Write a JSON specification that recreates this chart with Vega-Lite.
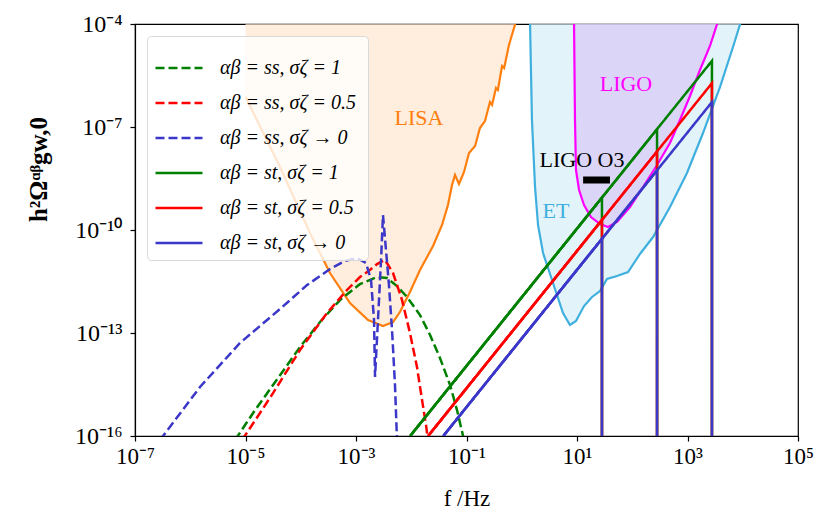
{
  "$schema": "https://vega.github.io/schema/vega-lite/v6.json",
  "width": 663,
  "height": 412,
  "autosize": "none",
  "padding": {"left": 135, "top": 24, "right": 33, "bottom": 90},
  "datasets": {
    "sens": [
      {"det": "LISA", "f": 1e-5, "h": 7.48e-7},
      {"det": "LISA", "f": 4.21e-5, "h": 6.84e-9},
      {"det": "LISA", "f": 1.47e-4, "h": 8.17e-11},
      {"det": "LISA", "f": 3.38e-4, "h": 5.58e-12},
      {"det": "LISA", "f": 7.78e-4, "h": 7.46e-13},
      {"det": "LISA", "f": 1.65e-3, "h": 2.39e-13},
      {"det": "LISA", "f": 3.08e-3, "h": 1.6e-13},
      {"det": "LISA", "f": 4.68e-3, "h": 2.09e-13},
      {"det": "LISA", "f": 6.25e-3, "h": 4.08e-13},
      {"det": "LISA", "f": 9.48e-3, "h": 1.56e-12},
      {"det": "LISA", "f": 1.44e-2, "h": 6.82e-12},
      {"det": "LISA", "f": 2.48e-2, "h": 3.41e-11},
      {"det": "LISA", "f": 3.61e-2, "h": 1.4e-10},
      {"det": "LISA", "f": 4.62e-2, "h": 5.35e-10},
      {"det": "LISA", "f": 5.47e-2, "h": 2.04e-9},
      {"det": "LISA", "f": 6.19e-2, "h": 4.0e-9},
      {"det": "LISA", "f": 7.31e-2, "h": 2.18e-9},
      {"det": "LISA", "f": 9.02e-2, "h": 4.89e-9},
      {"det": "LISA", "f": 0.111, "h": 1.75e-8},
      {"det": "LISA", "f": 0.143, "h": 2.79e-8},
      {"det": "LISA", "f": 0.175, "h": 9.35e-8},
      {"det": "LISA", "f": 0.216, "h": 1.49e-7},
      {"det": "LISA", "f": 0.266, "h": 5.35e-7},
      {"det": "LISA", "f": 0.29, "h": 4.4e-7},
      {"det": "LISA", "f": 0.342, "h": 1.37e-6},
      {"det": "LISA", "f": 0.37, "h": 1.2e-6},
      {"det": "LISA", "f": 0.44, "h": 5.98e-6},
      {"det": "LISA", "f": 0.48, "h": 5.2e-6},
      {"det": "LISA", "f": 0.587, "h": 2.44e-5},
      {"det": "LISA", "f": 0.787, "h": 1.2e-4},
      {"det": "ET", "f": 1.41, "h": 1.2e-4},
      {"det": "ET", "f": 1.53, "h": 1.6e-7},
      {"det": "ET", "f": 1.74, "h": 1.79e-9},
      {"det": "ET", "f": 1.97, "h": 1.4e-10},
      {"det": "ET", "f": 2.43, "h": 2.13e-11},
      {"det": "ET", "f": 3.68, "h": 2.86e-12},
      {"det": "ET", "f": 5.58, "h": 3.82e-13},
      {"det": "ET", "f": 7.46, "h": 1.71e-13},
      {"det": "ET", "f": 9.59, "h": 2.23e-13},
      {"det": "ET", "f": 13.4, "h": 6.11e-13},
      {"det": "ET", "f": 18.7, "h": 1.12e-12},
      {"det": "ET", "f": 26.1, "h": 1.67e-12},
      {"det": "ET", "f": 34.9, "h": 3.73e-12},
      {"det": "ET", "f": 53.0, "h": 4.56e-12},
      {"det": "ET", "f": 83.8, "h": 5.97e-12},
      {"det": "ET", "f": 138, "h": 2.0e-11},
      {"det": "ET", "f": 238, "h": 6.24e-11},
      {"det": "ET", "f": 482, "h": 4.67e-10},
      {"det": "ET", "f": 979, "h": 4.57e-9},
      {"det": "ET", "f": 1910, "h": 6.68e-8},
      {"det": "ET", "f": 3870, "h": 1.46e-6},
      {"det": "ET", "f": 6660, "h": 2.14e-5},
      {"det": "ET", "f": 9290, "h": 1.2e-4},
      {"det": "LIGO", "f": 8.83, "h": 1.2e-4},
      {"det": "LIGO", "f": 9.2, "h": 1.6e-7},
      {"det": "LIGO", "f": 9.59, "h": 5.58e-9},
      {"det": "LIGO", "f": 10.9, "h": 1.46e-9},
      {"det": "LIGO", "f": 13.4, "h": 5.35e-10},
      {"det": "LIGO", "f": 17.9, "h": 2.39e-10},
      {"det": "LIGO", "f": 26.1, "h": 1.49e-10},
      {"det": "LIGO", "f": 36.4, "h": 1.22e-10},
      {"det": "LIGO", "f": 53.0, "h": 1.71e-10},
      {"det": "LIGO", "f": 91.0, "h": 4.67e-10},
      {"det": "LIGO", "f": 157, "h": 1.79e-9},
      {"det": "LIGO", "f": 281, "h": 7.82e-9},
      {"det": "LIGO", "f": 482, "h": 3.42e-8},
      {"det": "LIGO", "f": 731, "h": 1.6e-7},
      {"det": "LIGO", "f": 1110, "h": 8.0e-7},
      {"det": "LIGO", "f": 1680, "h": 4.57e-6},
      {"det": "LIGO", "f": 2550, "h": 2.29e-5},
      {"det": "LIGO", "f": 3560, "h": 1.2e-4}
    ],
    "curves": [
      {"series": "ss1", "id": "ss1", "f": 6.46e-6, "h": 7.6e-17},
      {"series": "ss1", "id": "ss1", "f": 1.49e-5, "h": 5.7e-16},
      {"series": "ss1", "id": "ss1", "f": 3.15e-5, "h": 3.05e-15},
      {"series": "ss1", "id": "ss1", "f": 9.7e-5, "h": 3.9e-14},
      {"series": "ss1", "id": "ss1", "f": 2.23e-4, "h": 2.09e-13},
      {"series": "ss1", "id": "ss1", "f": 5.13e-4, "h": 9.12e-13},
      {"series": "ss1", "id": "ss1", "f": 1.18e-3, "h": 2.67e-12},
      {"series": "ss1", "id": "ss1", "f": 2.4e-3, "h": 4.27e-12},
      {"series": "ss1", "id": "ss1", "f": 3.64e-3, "h": 3.99e-12},
      {"series": "ss1", "id": "ss1", "f": 5.52e-3, "h": 2.33e-12},
      {"series": "ss1", "id": "ss1", "f": 8.38e-3, "h": 1.12e-12},
      {"series": "ss1", "id": "ss1", "f": 1.44e-2, "h": 3.33e-13},
      {"series": "ss1", "id": "ss1", "f": 2.19e-2, "h": 8.73e-14},
      {"series": "ss1", "id": "ss1", "f": 3.31e-2, "h": 1.87e-14},
      {"series": "ss1", "id": "ss1", "f": 5.04e-2, "h": 3.05e-15},
      {"series": "ss1", "id": "ss1", "f": 6.73e-2, "h": 5.7e-16},
      {"series": "ss1", "id": "ss1", "f": 9.02e-2, "h": 7.6e-17},
      {"series": "ss05", "id": "ss05", "f": 8.65e-6, "h": 7.6e-17},
      {"series": "ss05", "id": "ss05", "f": 1.83e-5, "h": 4.67e-16},
      {"series": "ss05", "id": "ss05", "f": 3.15e-5, "h": 1.78e-15},
      {"series": "ss05", "id": "ss05", "f": 9.7e-5, "h": 3.19e-14},
      {"series": "ss05", "id": "ss05", "f": 2.99e-4, "h": 3.82e-13},
      {"series": "ss05", "id": "ss05", "f": 6.87e-4, "h": 1.79e-12},
      {"series": "ss05", "id": "ss05", "f": 1.18e-3, "h": 4.27e-12},
      {"series": "ss05", "id": "ss05", "f": 1.79e-3, "h": 6.82e-12},
      {"series": "ss05", "id": "ss05", "f": 2.4e-3, "h": 1.02e-11},
      {"series": "ss05", "id": "ss05", "f": 3.35e-3, "h": 1.34e-11},
      {"series": "ss05", "id": "ss05", "f": 4.68e-3, "h": 5.58e-12},
      {"series": "ss05", "id": "ss05", "f": 6.81e-3, "h": 9.12e-13},
      {"series": "ss05", "id": "ss05", "f": 9.48e-3, "h": 1.0e-13},
      {"series": "ss05", "id": "ss05", "f": 1.27e-2, "h": 1.02e-14},
      {"series": "ss05", "id": "ss05", "f": 1.57e-2, "h": 1.11e-15},
      {"series": "ss05", "id": "ss05", "f": 1.85e-2, "h": 2.08e-16},
      {"series": "ss05", "id": "ss05", "f": 2.01e-2, "h": 7.6e-17},
      {"series": "ss0", "id": "ss0", "f": 2.83e-7, "h": 7.6e-17},
      {"series": "ss0", "id": "ss0", "f": 1.5e-6, "h": 2.67e-15},
      {"series": "ss0", "id": "ss0", "f": 7.94e-6, "h": 5.11e-14},
      {"series": "ss0", "id": "ss0", "f": 1.83e-5, "h": 1.6e-13},
      {"series": "ss0", "id": "ss0", "f": 4.21e-5, "h": 4.99e-13},
      {"series": "ss0", "id": "ss0", "f": 1.3e-4, "h": 2.49e-12},
      {"series": "ss0", "id": "ss0", "f": 3.39e-4, "h": 7.29e-12},
      {"series": "ss0", "id": "ss0", "f": 6.32e-4, "h": 1.25e-11},
      {"series": "ss0", "id": "ss0", "f": 1.04e-3, "h": 1.53e-11},
      {"series": "ss0", "id": "ss0", "f": 1.52e-3, "h": 1.09e-11},
      {"series": "ss0", "id": "ss0", "f": 1.87e-3, "h": 3.49e-12},
      {"series": "ss0", "id": "ss0", "f": 2.12e-3, "h": 2.39e-13},
      {"series": "ss0", "id": "ss0", "f": 2.21e-3, "h": 5.21e-15},
      {"series": "ss0", "id": "ss0", "f": 2.5e-3, "h": 2.39e-13},
      {"series": "ss0", "id": "ss0", "f": 2.84e-3, "h": 1.34e-11},
      {"series": "ss0", "id": "ss0", "f": 3.08e-3, "h": 2.73e-10},
      {"series": "ss0", "id": "ss0", "f": 3.49e-3, "h": 2.61e-11},
      {"series": "ss0", "id": "ss0", "f": 3.95e-3, "h": 2.49e-12},
      {"series": "ss0", "id": "ss0", "f": 4.49e-3, "h": 1.22e-13},
      {"series": "ss0", "id": "ss0", "f": 5.08e-3, "h": 3.05e-15},
      {"series": "ss0", "id": "ss0", "f": 5.52e-3, "h": 7.6e-17},
      {"series": "st1", "id": "st1a", "f": 9.55e-3, "h": 1e-16},
      {"series": "st1", "id": "st1a", "f": 28.3, "h": 8.79e-10},
      {"series": "st1", "id": "st1a", "f": 28.3, "h": 1e-16},
      {"series": "st1", "id": "st1b", "f": 9.55e-3, "h": 1e-16},
      {"series": "st1", "id": "st1b", "f": 281, "h": 8.63e-8},
      {"series": "st1", "id": "st1b", "f": 281, "h": 1e-16},
      {"series": "st1", "id": "st1c", "f": 9.55e-3, "h": 1e-16},
      {"series": "st1", "id": "st1c", "f": 2770, "h": 8.43e-6},
      {"series": "st1", "id": "st1c", "f": 2770, "h": 1e-16},
      {"series": "st05", "id": "st05a", "f": 2.02e-2, "h": 1e-16},
      {"series": "st05", "id": "st05a", "f": 28.3, "h": 1.97e-10},
      {"series": "st05", "id": "st05a", "f": 28.3, "h": 1e-16},
      {"series": "st05", "id": "st05b", "f": 2.02e-2, "h": 1e-16},
      {"series": "st05", "id": "st05b", "f": 281, "h": 1.93e-8},
      {"series": "st05", "id": "st05b", "f": 281, "h": 1e-16},
      {"series": "st05", "id": "st05c", "f": 2.02e-2, "h": 1e-16},
      {"series": "st05", "id": "st05c", "f": 2770, "h": 1.89e-6},
      {"series": "st05", "id": "st05c", "f": 2770, "h": 1e-16},
      {"series": "st0", "id": "st0a", "f": 3.8e-2, "h": 1e-16},
      {"series": "st0", "id": "st0a", "f": 28.3, "h": 5.55e-11},
      {"series": "st0", "id": "st0a", "f": 28.3, "h": 1e-16},
      {"series": "st0", "id": "st0b", "f": 3.8e-2, "h": 1e-16},
      {"series": "st0", "id": "st0b", "f": 281, "h": 5.44e-9},
      {"series": "st0", "id": "st0b", "f": 281, "h": 1e-16},
      {"series": "st0", "id": "st0c", "f": 3.8e-2, "h": 1e-16},
      {"series": "st0", "id": "st0c", "f": 2770, "h": 5.32e-7},
      {"series": "st0", "id": "st0c", "f": 2770, "h": 1e-16}
    ],
    "labels": [
      {"label": "LISA", "f": 1.38e-2, "h": 1.83e-7},
      {"label": "LIGO", "f": 77, "h": 1.79e-6},
      {"label": "LIGO O3", "f": 12.3, "h": 1.1e-8},
      {"label": "ET", "f": 4.17, "h": 3.57e-10}
    ]
  },
  "encoding": {
    "x": {
      "field": "f",
      "type": "quantitative",
      "scale": {"type": "log", "domain": [1e-7, 1e5]},
      "axis": {
        "values": [1e-7, 1e-5, 1e-3, 1e-1, 10, 1000, 100000],
        "labelExpr": "datum.value < 1e-6 ? '10⁻⁷' : datum.value < 1e-4 ? '10⁻⁵' : datum.value < 1e-2 ? '10⁻³' : datum.value < 1 ? '10⁻¹' : datum.value < 100 ? '10¹' : datum.value < 1e4 ? '10³' : '10⁵'",
        "labelFontSize": 23,
        "title": "f /Hz",
        "titleFontSize": 23,
        "titleY": 62,
        "titleBaseline": "middle",
        "labelPadding": 4
      }
    },
    "y": {
      "field": "h",
      "type": "quantitative",
      "scale": {"type": "log", "domain": [1e-16, 1e-4]},
      "axis": {
        "values": [1e-16, 1e-13, 1e-10, 1e-7, 1e-4],
        "labelExpr": "datum.value < 1e-15 ? '10⁻¹⁶' : datum.value < 1e-12 ? '10⁻¹³' : datum.value < 1e-9 ? '10⁻¹⁰' : datum.value < 1e-6 ? '10⁻⁷' : '10⁻⁴'",
        "labelFontSize": 24,
        "title": "h²Ωᵅᵝgw,0",
        "titleFontWeight": "bold",
        "titleFontSize": 25,
        "titleX": -97,
        "titleY": 145,
        "titleAngle": -90,
        "titleBaseline": "middle",
        "titleAlign": "center",
        "labelPadding": 8
      }
    }
  },
  "layer": [
    {
      "data": {"name": "sens"},
      "transform": [{"filter": "datum.det == 'LISA'"}],
      "mark": {"type": "area", "clip": true, "color": "#ffe5cf", "line": {"color": "#ff7f0e", "strokeWidth": 2.2}},
      "encoding": {"y2": {"datum": 1e-4}}
    },
    {
      "data": {"name": "sens"},
      "transform": [{"filter": "datum.det == 'ET'"}],
      "mark": {"type": "area", "clip": true, "color": "#d5eef8", "line": {"color": "#3fb0de", "strokeWidth": 2.2}},
      "encoding": {"y2": {"datum": 1e-4}}
    },
    {
      "data": {"name": "sens"},
      "transform": [{"filter": "datum.det == 'LIGO'"}],
      "mark": {"type": "area", "clip": true, "color": "#d8c8f6", "line": {"color": "#ff00ff", "strokeWidth": 2.2}},
      "encoding": {"y2": {"datum": 1e-4}}
    },
    {
      "data": {"name": "curves"},
      "encoding": {
        "color": {
          "field": "series",
          "type": "nominal",
          "scale": {
            "domain": ["ss1", "ss05", "ss0", "st1", "st05", "st0"],
            "range": ["#008000", "#ff0000", "#3b37c9", "#008000", "#ff0000", "#3b37c9"]
          },
          "legend": {
            "title": null,
            "labelExpr": "datum.label == 'ss1' ? 'αβ = ss,  σζ = 1' : datum.label == 'ss05' ? 'αβ = ss,  σζ = 0.5' : datum.label == 'ss0' ? 'αβ = ss,  σζ → 0' : datum.label == 'st1' ? 'αβ = st,  σζ = 1' : datum.label == 'st05' ? 'αβ = st,  σζ = 0.5' : 'αβ = st,  σζ → 0'"
          }
        },
        "strokeDash": {
          "field": "series",
          "type": "nominal",
          "scale": {
            "domain": ["ss1", "ss05", "ss0", "st1", "st05", "st0"],
            "range": [[9, 4], [9, 4], [9, 4], [1, 0], [1, 0], [1, 0]]
          },
          "legend": {
            "title": null,
            "labelExpr": "datum.label == 'ss1' ? 'αβ = ss,  σζ = 1' : datum.label == 'ss05' ? 'αβ = ss,  σζ = 0.5' : datum.label == 'ss0' ? 'αβ = ss,  σζ → 0' : datum.label == 'st1' ? 'αβ = st,  σζ = 1' : datum.label == 'st05' ? 'αβ = st,  σζ = 0.5' : 'αβ = st,  σζ → 0'"
          }
        },
        "detail": {"field": "id"}
      },
      "layer": [
        {
          "transform": [{"filter": "indexof(datum.series, 'ss') == 0"}],
          "mark": {"type": "line", "clip": true, "strokeWidth": 2.5}
        },
        {
          "transform": [{"filter": "datum.series == 'st1'"}],
          "mark": {"type": "line", "clip": true, "strokeWidth": 2.5}
        },
        {
          "transform": [{"filter": "datum.series == 'st05'"}],
          "mark": {"type": "line", "clip": true, "strokeWidth": 2.5}
        },
        {
          "transform": [{"filter": "datum.series == 'st0'"}],
          "mark": {"type": "line", "clip": true, "strokeWidth": 2.5}
        }
      ]
    },
    {
      "data": {"values": [{"f": 12.9, "f2": 39.5, "h": 2.86e-9}]},
      "mark": {"type": "rule", "color": "black", "strokeWidth": 7},
      "encoding": {"x2": {"field": "f2"}}
    },
    {
      "data": {"name": "labels"},
      "transform": [{"filter": "datum.label == 'LISA'"}],
      "mark": {"type": "text", "fontSize": 22, "color": "#ff7f0e"},
      "encoding": {"text": {"field": "label"}}
    },
    {
      "data": {"name": "labels"},
      "transform": [{"filter": "datum.label == 'LIGO'"}],
      "mark": {"type": "text", "fontSize": 22, "color": "#ff00ff"},
      "encoding": {"text": {"field": "label"}}
    },
    {
      "data": {"name": "labels"},
      "transform": [{"filter": "datum.label == 'LIGO O3'"}],
      "mark": {"type": "text", "fontSize": 22, "color": "black"},
      "encoding": {"text": {"field": "label"}}
    },
    {
      "data": {"name": "labels"},
      "transform": [{"filter": "datum.label == 'ET'"}],
      "mark": {"type": "text", "fontSize": 22, "color": "#3fb0de"},
      "encoding": {"text": {"field": "label"}}
    }
  ],
  "config": {
    "font": "Liberation Serif",
    "view": {"stroke": "black", "strokeWidth": 1.2},
    "axis": {
      "grid": false,
      "domainColor": "black",
      "domainWidth": 1.2,
      "tickColor": "black",
      "tickSize": 5,
      "tickWidth": 1.2,
      "labelColor": "black",
      "labelOverlap": false,
      "labelFlush": false,
      "labelBound": false,
      "titleColor": "black",
      "titleFontWeight": "normal"
    },
    "legend": {
      "orient": "none",
      "legendX": 12,
      "legendY": 12,
      "fillColor": "rgba(255,255,255,0.8)",
      "strokeColor": "#d9d9d9",
      "cornerRadius": 4,
      "padding": 7,
      "symbolType": "stroke",
      "symbolSize": 2209,
      "symbolStrokeWidth": 2.5,
      "labelFontSize": 20,
      "labelFontStyle": "italic",
      "labelColor": "black",
      "labelLimit": 300,
      "labelOffset": 16,
      "rowPadding": -16
    }
  }
}
